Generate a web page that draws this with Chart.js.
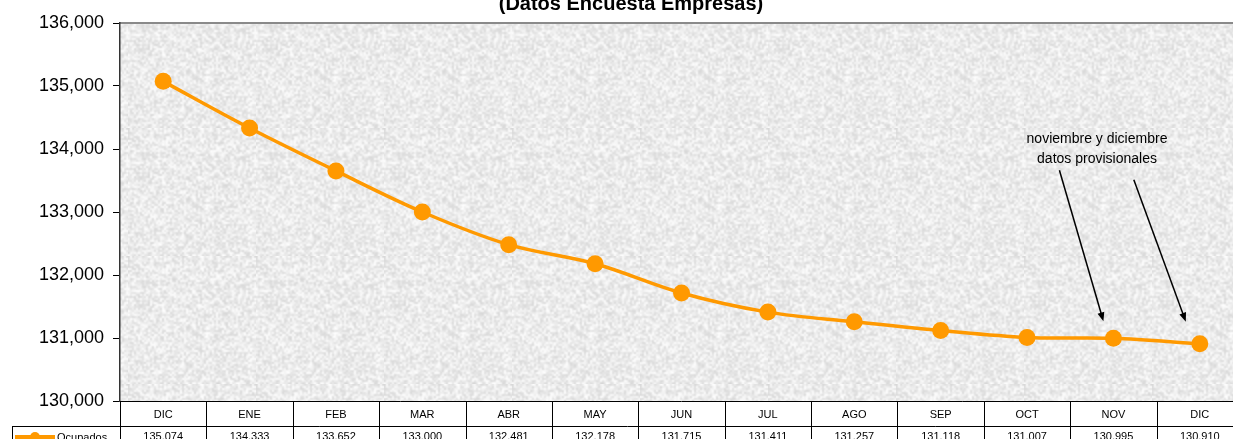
<!DOCTYPE html>
<html>
<head>
<meta charset="utf-8">
<script src="https://cdn.jsdelivr.net/npm/chart.js@4"></script>
<style>
  html, body { margin: 0; padding: 0; background: #fff; overflow: hidden; }
  canvas { display: block; }
</style>
</head>
<body>
<canvas id="line-chart" width="1260" height="439"></canvas>
<script>
// ------------------------------------------------------
// @Data
// ------------------------------------------------------
const meses     = ['DIC', 'ENE', 'FEB', 'MAR', 'ABR', 'MAY', 'JUN', 'JUL', 'AGO', 'SEP', 'OCT', 'NOV', 'DIC'];
const ocupados  = [135074, 134333, 133652, 133000, 132481, 132178, 131715, 131411, 131257, 131118, 131007, 130995, 130910];
const yTicks    = [130000, 131000, 132000, 133000, 134000, 135000, 136000];
const titulo    = '(Datos Encuesta Empresas)';
const nota      = ['noviembre y diciembre', 'datos provisionales'];
const provisionales = [11, 12]; // indices de NOV y DIC

const NARANJA = '#FF9900';
const FONT = 'Arial, "Liberation Sans", sans-serif';

// textura gris del fondo (ruido determinista, ampliado para que sea mas "granito")
function makeTexture() {
  const n = 64;
  const small = document.createElement('canvas');
  small.width = n; small.height = n;
  const g = small.getContext('2d');
  const img = g.createImageData(n, n);
  for (let y = 0; y < n; y++) {
    for (let x = 0; x < n; x++) {
      const h = Math.sin(x * 12.9898 + y * 78.233) * 43758.5453;
      const r = h - Math.floor(h);
      const v = Math.round(206 + r * 48);
      const i = (y * n + x) * 4;
      img.data[i] = v; img.data[i + 1] = v; img.data[i + 2] = v; img.data[i + 3] = 255;
    }
  }
  g.putImageData(img, 0, 0);
  const c = document.createElement('canvas');
  c.width = n * 2; c.height = n * 2;
  const g2 = c.getContext('2d');
  g2.imageSmoothingEnabled = true;
  g2.drawImage(small, 0, 0, n * 2, n * 2);
  // aclarar
  g2.fillStyle = 'rgba(255,255,255,0.22)';
  g2.fillRect(0, 0, n * 2, n * 2);
  return c;
}

const fondoPlugin = {
  id: 'fondo',
  beforeDraw(chart) {
    const { ctx, chartArea: a } = chart;
    ctx.save();
    ctx.fillStyle = ctx.createPattern(makeTexture(), 'repeat');
    ctx.fillRect(a.left, a.top, a.right - a.left, a.bottom - a.top);
    // borde superior
    ctx.strokeStyle = '#8a8a8a';
    ctx.lineWidth = 2;
    ctx.beginPath();
    ctx.moveTo(a.left, a.top);
    ctx.lineTo(a.right, a.top);
    ctx.stroke();
    // titulo (cortado arriba)
    ctx.fillStyle = '#000';
    ctx.font = 'bold 20px ' + FONT;
    ctx.textAlign = 'center';
    ctx.textBaseline = 'alphabetic';
    ctx.fillText(titulo, 631, 10);
    ctx.restore();
  }
};

const tablaPlugin = {
  id: 'tabla',
  afterDraw(chart) {
    const { ctx, chartArea: a, scales } = chart;
    const x = scales.x;
    const w = x.getPixelForValue(1) - x.getPixelForValue(0);
    const r1 = a.bottom, r2 = a.bottom + 25, r3 = chart.height;

    ctx.save();
    ctx.strokeStyle = '#000';
    ctx.lineWidth = 1;
    ctx.beginPath();
    ctx.moveTo(a.left, r1 + 0.5); ctx.lineTo(a.right, r1 + 0.5);
    ctx.moveTo(12, r2 + 0.5); ctx.lineTo(a.right, r2 + 0.5);
    ctx.moveTo(12.5, r2); ctx.lineTo(12.5, r3);
    for (let i = 0; i <= meses.length; i++) {
      const px = Math.round(x.getPixelForValue(i) - w / 2) + 0.5;
      ctx.moveTo(px, r1); ctx.lineTo(px, r3);
    }
    ctx.stroke();

    ctx.fillStyle = '#000';
    ctx.font = '11px ' + FONT;
    ctx.textAlign = 'center';
    ctx.textBaseline = 'middle';
    meses.forEach((m, i) => {
      const px = x.getPixelForValue(i);
      ctx.fillText(m, px, (r1 + r2) / 2 + 1);
      ctx.fillText(ocupados[i].toLocaleString('de-DE'), px, r2 + 11);
    });

    // leyenda
    ctx.strokeStyle = NARANJA;
    ctx.lineWidth = 4;
    ctx.beginPath();
    ctx.moveTo(15, r2 + 11); ctx.lineTo(55, r2 + 11);
    ctx.stroke();
    ctx.fillStyle = NARANJA;
    ctx.beginPath();
    ctx.arc(35, r2 + 11, 5, 0, Math.PI * 2);
    ctx.fill();
    ctx.fillStyle = '#000';
    ctx.textAlign = 'left';
    ctx.fillText('Ocupados', 57, r2 + 12);

    // nota y flechas
    const y = scales.y;
    ctx.font = '14px ' + FONT;
    ctx.textAlign = 'center';
    ctx.textBaseline = 'alphabetic';
    ctx.fillText(nota[0], 1097, 143);
    ctx.fillText(nota[1], 1097, 163);

    const desde = [[-54, -168], [-66, -164]];
    const hasta = [[-10, -17], [-14, -22]];
    ctx.strokeStyle = '#000';
    ctx.fillStyle = '#000';
    ctx.lineWidth = 1.5;
    provisionales.forEach((idx, k) => {
      const px = x.getPixelForValue(idx);
      const py = y.getPixelForValue(ocupados[idx]);
      const x0 = px + desde[k][0], y0 = py + desde[k][1];
      const x1 = px + hasta[k][0], y1 = py + hasta[k][1];
      const ang = Math.atan2(y1 - y0, x1 - x0);
      ctx.beginPath();
      ctx.moveTo(x0, y0); ctx.lineTo(x1 - 6 * Math.cos(ang), y1 - 6 * Math.sin(ang));
      ctx.stroke();
      ctx.beginPath();
      ctx.moveTo(x1, y1);
      ctx.lineTo(x1 - 9 * Math.cos(ang) + 3.5 * Math.sin(ang), y1 - 9 * Math.sin(ang) - 3.5 * Math.cos(ang));
      ctx.lineTo(x1 - 9 * Math.cos(ang) - 3.5 * Math.sin(ang), y1 - 9 * Math.sin(ang) + 3.5 * Math.cos(ang));
      ctx.closePath();
      ctx.fill();
    });
    ctx.restore();
  }
};

// ------------------------------------------------------
// @Line Chart
// ------------------------------------------------------
const lineCtx = document.getElementById('line-chart').getContext('2d');

new Chart(lineCtx, {
  type: 'line',
  data: {
    labels: meses,
    datasets: [{
      label                : 'Ocupados',
      data                 : ocupados,
      borderColor          : NARANJA,
      backgroundColor      : NARANJA,
      pointBackgroundColor : NARANJA,
      pointBorderWidth     : 0,
      pointRadius          : 8.5,
      borderWidth          : 3.5,
      tension              : 0.35,
      fill                 : false,
    }],
  },
  options: {
    responsive: false,
    animation: false,
    layout: {
      padding: { left: 0, right: 17, top: 23, bottom: 38 },
    },
    plugins: {
      legend: { display: false },
      tooltip: { enabled: false },
    },
    scales: {
      x: {
        display: false,
        offset: true,
      },
      y: {
        min: yTicks[0],
        max: yTicks[yTicks.length - 1],
        afterBuildTicks: (s) => { s.ticks = yTicks.map(v => ({ value: v })); },
        afterFit: (s) => { s.width = 120; },
        border: { display: true, color: '#333', width: 1.5 },
        grid: { drawOnChartArea: false, drawTicks: true, tickLength: 7, color: '#000' },
        ticks: {
          padding: 9,
          color: '#000',
          font: { size: 18, family: FONT },
          callback: (v) => v.toLocaleString('en-US'),
        },
      },
    },
  },
  plugins: [fondoPlugin, tablaPlugin],
});
</script>
</body>
</html>
